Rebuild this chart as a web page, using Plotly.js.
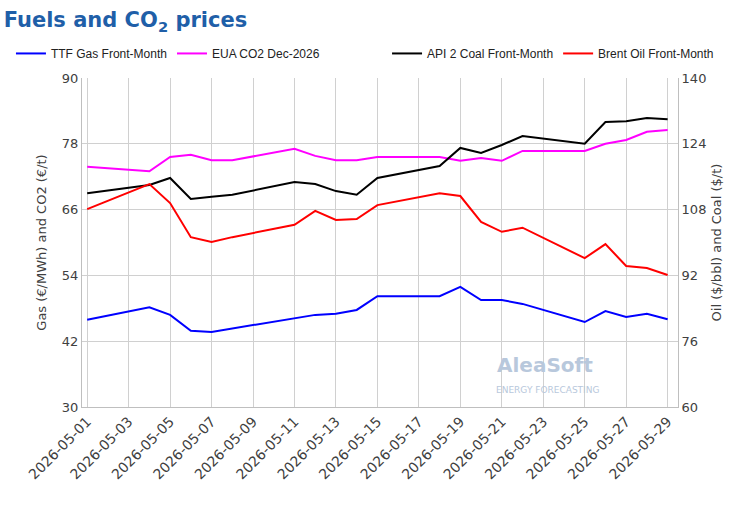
<!DOCTYPE html>
<html>
<head>
<meta charset="utf-8">
<script src="https://cdn.plot.ly/plotly-3.0.1.min.js"></script>
<style>body{margin:0;background:#fff}#chart{width:730px;height:509px}</style>
</head>
<body>
<div id="chart"></div>
<script>
// Trading days (weekends skipped, lines join across them)
const dates = ['2026-05-01','2026-05-04','2026-05-05','2026-05-06','2026-05-07','2026-05-08',
  '2026-05-11','2026-05-12','2026-05-13','2026-05-14','2026-05-15','2026-05-18','2026-05-19',
  '2026-05-20','2026-05-21','2026-05-22','2026-05-25','2026-05-26','2026-05-27','2026-05-28','2026-05-29'];
const ttfGas = [45.9,48.2,46.8,43.9,43.7,44.3,46.2,46.8,47.0,47.7,50.2,50.2,51.9,49.5,49.5,48.8,45.5,47.5,46.4,47.0,46.0];
const euaCo2 = [73.8,73.0,75.6,76.0,75.0,75.0,77.1,75.8,75.0,75.0,75.6,75.6,74.9,75.4,74.9,76.7,76.7,78.0,78.7,80.2,80.5];
const api2Coal = [112.0,114.0,115.7,110.6,111.1,111.6,114.7,114.2,112.5,111.6,115.7,118.6,123.0,121.8,123.7,125.9,124.0,129.3,129.5,130.3,130.0];
const brentOil = [108.1,114.2,109.6,101.3,100.1,101.3,104.3,107.7,105.5,105.7,109.1,112.0,111.3,105.0,102.6,103.6,96.2,99.6,94.3,93.8,92.1];

function trace(y, name, color, axis, leg) {
  return {x: dates, y: y, name: name, type: 'scatter', mode: 'lines',
    yaxis: axis, legend: leg, line: {color: color, width: 2}};
}

const data = [
  trace(ttfGas, 'TTF Gas Front-Month', '#0000ff', 'y', 'legend'),
  trace(euaCo2, 'EUA CO2 Dec-2026', '#ff00ff', 'y', 'legend'),
  trace(api2Coal, 'API 2 Coal Front-Month', '#000000', 'y2', 'legend2'),
  trace(brentOil, 'Brent Oil Front-Month', '#ff0000', 'y2', 'legend2')
];

const font = {family: 'DejaVu Sans, sans-serif', size: 12, color: '#404040'};
const legFont = {family: 'Liberation Sans, sans-serif', size: 12, color: '#222'};

const layout = {
  width: 730, height: 509,
  margin: {l: 82, r: 52, t: 78, b: 102},
  font: font,
  title: {text: '<b>Fuels and CO<sub>2</sub> prices</b>', x: 0.005, xanchor: 'left', y: 0.975,
    font: {family: 'DejaVu Sans, sans-serif', size: 21, color: '#1f5fa8'}},
  showlegend: true,
  legend: {orientation: 'h', xref: 'container', x: 0.015, xanchor: 'left',
    yref: 'container', y: 0.895, yanchor: 'middle', font: legFont, itemwidth: 30},
  legend2: {orientation: 'h', xref: 'container', x: 0.985, xanchor: 'right',
    yref: 'container', y: 0.895, yanchor: 'middle', font: legFont, itemwidth: 30},
  xaxis: {type: 'date', range: ['2026-04-30 18:00', '2026-05-29 12:00'],
    tick0: '2026-05-01', dtick: 2 * 86400000, tickformat: '%Y-%m-%d', tickangle: -45,
    showgrid: true, gridcolor: '#d0d0d0', showline: true, linecolor: '#bfbfbf',
    ticks: '', tickfont: {size: 14, color: '#404040'}},
  yaxis: {range: [30, 90], tick0: 30, dtick: 12, showgrid: true, gridcolor: '#d0d0d0', zeroline: false,
    showline: true, linecolor: '#bfbfbf',
    title: {text: 'Gas (€/MWh) and CO2 (€/t)', font: {size: 13, color: '#404040'}},
    tickfont: {size: 13, color: '#404040'}},
  yaxis2: {range: [60, 140], tick0: 60, dtick: 16, overlaying: 'y', side: 'right', showgrid: false,
    zeroline: false, showline: true, linecolor: '#bfbfbf',
    title: {text: 'Oil ($/bbl) and Coal ($/t)', font: {size: 13, color: '#404040'}},
    tickfont: {size: 13, color: '#404040'}},
  annotations: [
    {text: '<b>AleaSoft</b>', xref: 'paper', yref: 'paper', x: 0.86, y: 0.085,
      showarrow: false, font: {size: 20, color: '#b8c8dc'}},
    {text: 'ENERGY FORECASTING', xref: 'paper', yref: 'paper', x: 0.87, y: 0.03,
      showarrow: false, font: {size: 9, color: '#b8c8dc'}}
  ],
  plot_bgcolor: 'white', paper_bgcolor: 'white'
};

Plotly.newPlot('chart', data, layout, {displayModeBar: false});
</script>
</body>
</html>
